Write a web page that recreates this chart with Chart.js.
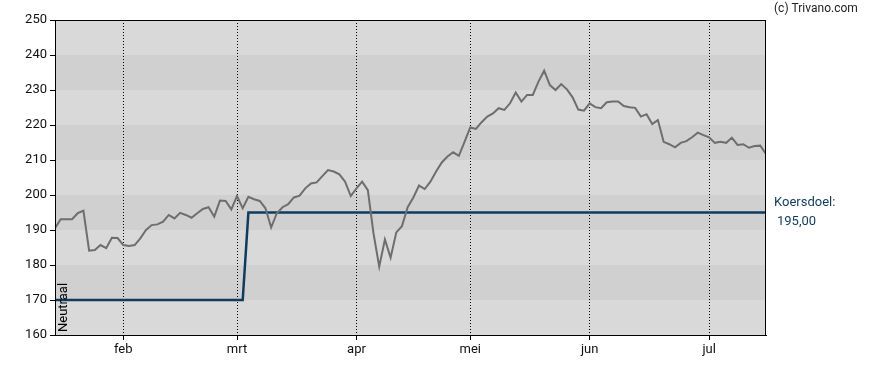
<!DOCTYPE html>
<html>
<head>
<meta charset="utf-8">
<script src="https://cdn.jsdelivr.net/npm/chart.js@4/dist/chart.umd.min.js"></script>
<style>
  body { margin: 0; background: #fff; }
</style>
</head>
<body>
<canvas id="koers" width="888" height="370"></canvas>
<script>
// koersverloop (handelsdagen, half jan - half jul)
var priceValues = [
    190.5, 193.1, 193.1, 193.1, 194.8, 195.5, 184.1, 184.3, 185.7, 184.8,
    187.8, 187.7, 185.7, 185.4, 185.7, 187.6, 190.0, 191.4, 191.6, 192.4,
    194.3, 193.3, 194.9, 194.3, 193.5, 194.8, 196.0, 196.5, 193.8, 198.4,
    198.3, 195.9, 199.7, 196.2, 199.5, 198.8, 198.3, 196.2, 190.7, 194.8,
    196.5, 197.4, 199.3, 199.8, 201.9, 203.3, 203.6, 205.4, 207.1, 206.7,
    205.9, 203.8, 199.7, 201.9, 203.8, 201.4, 189.0, 179.5, 187.3, 182.1,
    189.3, 191.1, 196.5, 199.3, 202.7, 201.7, 203.8, 206.7, 209.3, 211.0,
    212.2, 211.2, 215.2, 219.3, 218.9, 220.8, 222.4, 223.3, 224.8, 224.3,
    226.2, 229.3, 226.7, 228.6, 228.6, 232.4, 235.5, 231.4, 230.0, 231.7,
    230.2, 227.9, 224.4, 224.1, 226.2, 225.1, 224.8, 226.5, 226.7, 226.7,
    225.4, 225.1, 224.9, 222.4, 223.1, 220.3, 221.4, 215.2, 214.5, 213.6,
    214.9, 215.4, 216.5, 217.8, 217.1, 216.5, 214.9, 215.2, 214.9, 216.4,
    214.3, 214.5, 213.5, 214.0, 214.1, 211.7
];

// koersdoel: 170 (neutraal), daarna 195
var targetX = [0, 33, 34, 125];
var targetY = [170, 170, 195, 195];
var targetLabel = '195,00';

var monthLabels = ['feb', 'mrt', 'apr', 'mei', 'jun', 'jul'];
var monthIdx = [12, 32, 53, 73, 94, 115];

var yTicks = [160, 170, 180, 190, 200, 210, 220, 230, 240, 250];

var FONT = 'Roboto, "Liberation Sans", sans-serif';

var priceData = priceValues.map(function(v, i) { return {x: i, y: v}; });
var targetData = targetX.map(function(x, i) { return {x: x, y: targetY[i]}; });

// achtergrond banden
var bandsPlugin = {
    id: 'bands',
    beforeDraw: function(chart) {
        var ctx = chart.ctx, a = chart.chartArea, y = chart.scales.y;
        ctx.save();
        for (var i = 0; i < yTicks.length - 1; i++) {
            var top = y.getPixelForValue(yTicks[i + 1]);
            var bot = y.getPixelForValue(yTicks[i]);
            ctx.fillStyle = (i % 2 === 0) ? '#d9d9d9' : '#d0d0d0';
            ctx.fillRect(a.left, top, a.right - a.left, bot - top);
        }
        ctx.restore();
    },
    afterDraw: function(chart) {
        var ctx = chart.ctx, a = chart.chartArea, y = chart.scales.y;
        ctx.save();
        ctx.strokeStyle = '#000';
        ctx.lineWidth = 1;
        ctx.strokeRect(a.left + 0.5, a.top + 0.5, a.right - a.left - 1, a.bottom - a.top);

        ctx.fillStyle = '#222';
        ctx.font = '12px ' + FONT;
        ctx.textBaseline = 'middle';
        ctx.textAlign = 'left';
        ctx.fillText('(c) Trivano.com', a.right + 8, 9);

        var ty = y.getPixelForValue(targetY[targetY.length - 1]);
        ctx.fillStyle = '#123a5c';
        ctx.font = '13px ' + FONT;
        ctx.fillText('Koersdoel:', a.right + 8, ty - 10);
        ctx.fillText(targetLabel, a.right + 11, ty + 9);

        // neutraal label
        ctx.translate(a.left + 9, a.bottom - 3);
        ctx.rotate(-Math.PI / 2);
        ctx.fillStyle = '#000';
        ctx.font = '13px ' + FONT;
        ctx.textAlign = 'left';
        ctx.fillText('Neutraal', 0, 0);
        ctx.restore();
    }
};

var ctx = document.getElementById('koers').getContext('2d');
var chart = new Chart(ctx, {
    type: 'line',
    data: {
        datasets: [{
            label: 'Koers',
            data: priceData,
            borderColor: '#6e6e6e',
            borderWidth: 2,
            pointRadius: 0,
            tension: 0
        }, {
            label: 'Koersdoel',
            data: targetData,
            borderColor: '#0f3b5e',
            borderWidth: 2.5,
            pointRadius: 0,
            tension: 0
        }]
    },
    options: {
        responsive: false,
        animation: false,
        layout: { padding: { top: 20, right: 122, left: 0, bottom: 0 } },
        plugins: {
            legend: { display: false },
            tooltip: { enabled: false }
        },
        scales: {
            x: {
                type: 'linear',
                min: 0,
                max: priceValues.length - 1,
                afterBuildTicks: function(scale) {
                    scale.ticks = monthIdx.map(function(v) { return {value: v}; });
                },
                afterFit: function(scale) { scale.height = 35; },
                ticks: {
                    autoSkip: false,
                    maxRotation: 0,
                    padding: 2,
                    color: '#111',
                    font: { family: FONT, size: 13 },
                    callback: function(v) {
                        var k = monthIdx.indexOf(v);
                        return k >= 0 ? monthLabels[k] : '';
                    }
                },
                grid: { color: '#000', lineWidth: 1, tickLength: 5, tickColor: '#000' },
                border: { color: '#000', dash: [1, 2] }
            },
            y: {
                min: 160,
                max: 250,
                afterBuildTicks: function(scale) {
                    scale.ticks = yTicks.map(function(v) { return {value: v}; });
                },
                afterFit: function(scale) { scale.width = 55; },
                ticks: {
                    padding: 3,
                    color: '#111',
                    font: { family: FONT, size: 13 }
                },
                grid: { drawOnChartArea: false, tickLength: 5, color: '#000' },
                border: { color: '#000' }
            }
        }
    },
    plugins: [bandsPlugin]
});
</script>
</body>
</html>
